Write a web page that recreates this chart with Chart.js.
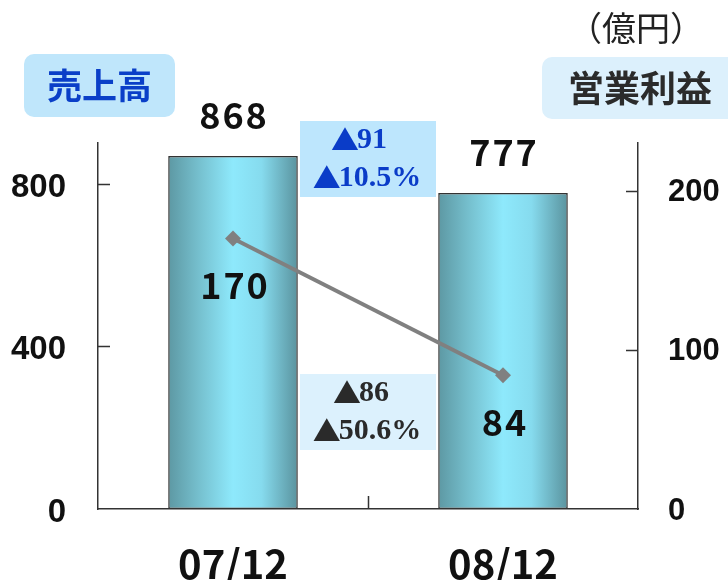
<!DOCTYPE html>
<html>
<head>
<meta charset="utf-8">
<script src="https://cdn.jsdelivr.net/npm/chart.js@4.4.1/dist/chart.umd.min.js"></script>
<style>
  body { margin: 0; background: #fff; }
  canvas { display: block; }
</style>
</head>
<body>
<canvas id="chart" width="728" height="580"></canvas>
<script>
// Data
const periods = ["07/12", "08/12"];
const sales = [868, 777];          // 売上高 (left axis)
const profit = [170, 84];          // 営業利益 (right axis)
const salesTicks = [0, 400, 800];
const profitTicks = [0, 100, 200];
const salesChange = ["91", "10.5%"];
const profitChange = ["86", "50.6%"];

const JP = '"Noto Sans CJK JP", "Noto Sans", sans-serif';
const SERIF = "bold 30px 'Liberation Serif', serif";
const TRI = "28px " + JP;

// Horizontal gradient for each bar
function barFill(ctx) {
  const chart = ctx.chart;
  const x = chart.scales.x;
  if (!x || ctx.dataIndex === undefined) return "#8ee9fc";
  const cx = x.getPixelForValue(ctx.dataIndex);
  const half = (x.width / periods.length) * 0.48 / 2;
  if (!isFinite(cx) || !isFinite(half) || half <= 0) return "#8ee9fc";
  const g = chart.ctx.createLinearGradient(cx - half, 0, cx + half, 0);
  g.addColorStop(0, "#5d98a3");
  g.addColorStop(0.22, "#74bdcb");
  g.addColorStop(0.5, "#8ee9fc");
  g.addColorStop(0.72, "#86dbee");
  g.addColorStop(1, "#5a939e");
  return g;
}

function roundRect(c, x, y, w, h, r) {
  c.beginPath();
  c.moveTo(x + r, y);
  c.arcTo(x + w, y, x + w, y + h, r);
  c.arcTo(x + w, y + h, x, y + h, r);
  c.arcTo(x, y + h, x, y, r);
  c.arcTo(x, y, x + w, y, r);
  c.closePath();
}

// "▲" in a sans font followed by a serif number, centred on cx
function changeText(c, txt, cx, cy) {
  c.font = TRI;
  const tw = c.measureText("▲").width;
  c.font = SERIF;
  const nw = c.measureText(txt).width;
  const left = cx - (tw + nw) / 2;
  c.textAlign = "left";
  c.font = TRI;
  c.fillText("▲", left, cy);
  c.font = SERIF;
  c.fillText(txt, left + tw - 2, cy);
  c.textAlign = "center";
}

// Inward tick marks, labels and boxes
const decorations = {
  id: "decorations",
  afterDraw(chart) {
    const c = chart.ctx;
    const { x, y, y1 } = chart.scales;
    const area = chart.chartArea;
    c.save();

    // inward ticks
    c.strokeStyle = "#333";
    c.lineWidth = 1.5;
    c.beginPath();
    salesTicks.slice(1).forEach(v => {
      const py = Math.round(y.getPixelForValue(v)) + 0.5;
      c.moveTo(area.left, py); c.lineTo(area.left + 12, py);
    });
    profitTicks.slice(1).forEach(v => {
      const py = Math.round(y1.getPixelForValue(v)) + 0.5;
      c.moveTo(area.right, py); c.lineTo(area.right - 12, py);
    });
    const midX = (x.getPixelForValue(0) + x.getPixelForValue(1)) / 2;
    c.moveTo(Math.round(midX) + 0.5, area.bottom); c.lineTo(Math.round(midX) + 0.5, area.bottom - 13);
    c.stroke();

    // category labels
    c.fillStyle = "#111";
    c.textAlign = "center";
    c.textBaseline = "middle";
    c.font = "bold 40px " + JP;
    periods.forEach((p, i) => c.fillText(p, x.getPixelForValue(i), area.bottom + 55));

    // value labels
    c.font = "bold 36px " + JP;
    c.letterSpacing = "2px";
    sales.forEach((v, i) => c.fillText(String(v), x.getPixelForValue(i) + 1, y.getPixelForValue(v) - 41));
    profit.forEach((v, i) => c.fillText(String(v), x.getPixelForValue(i) + 2, y1.getPixelForValue(v) + 47));
    c.letterSpacing = "0px";

    // change boxes
    const bw = 136, bh = 76;
    c.fillStyle = "#bde6fd";
    c.fillRect(midX - bw / 2, area.top - 22, bw, bh);
    c.fillStyle = "#0a3cc8";
    changeText(c, salesChange[0], midX - 8, area.top - 3);
    changeText(c, salesChange[1], midX, area.top + 35);

    const gy = area.top + 231;
    c.fillStyle = "#dcf1fd";
    c.fillRect(midX - bw / 2, gy, bw, bh);
    c.fillStyle = "#2a2a2a";
    changeText(c, profitChange[0], midX - 6, gy + 19);
    changeText(c, profitChange[1], midX, gy + 57);

    // axis titles
    c.fillStyle = "#bfe6fb";
    roundRect(c, 24, 54, 151, 63, 10); c.fill();
    c.fillStyle = "#0a3fc8";
    c.font = "bold 35px " + JP;
    c.fillText("売上高", 99.5, 86);

    c.fillStyle = "#dcf0fc";
    roundRect(c, 542, 57, 200, 62, 10); c.fill();
    c.fillStyle = "#2b2b2b";
    c.font = "bold 36px " + JP;
    c.fillText("営業利益", 640, 88);

    c.fillStyle = "#222";
    c.font = "34px " + JP;
    c.fillText("（億円）", 636, 28);

    c.restore();
  }
};

new Chart(document.getElementById("chart"), {
  data: {
    labels: periods,
    datasets: [
      {
        type: "line",
        data: profit,
        yAxisID: "y1",
        order: 0,
        borderColor: "#808080",
        borderWidth: 4,
        pointStyle: "rectRot",
        pointRadius: 8,
        pointBackgroundColor: "#808080",
        pointBorderWidth: 0,
        tension: 0
      },
      {
        type: "bar",
        data: sales,
        yAxisID: "y",
        order: 1,
        backgroundColor: barFill,
        borderColor: "#333",
        borderWidth: 1.5,
        borderSkipped: false,
        categoryPercentage: 1,
        barPercentage: 0.48
      }
    ]
  },
  options: {
    responsive: false,
    animation: false,
    layout: { padding: { top: 143, left: 0, right: 0, bottom: 0 } },
    plugins: { legend: { display: false }, tooltip: { enabled: false } },
    scales: {
      x: {
        offset: true,
        grid: { display: false },
        border: { display: true, color: "#333", width: 1.5 },
        ticks: { display: false },
        afterFit: s => { s.height = 71; }
      },
      y: {
        position: "left",
        min: 0,
        max: 900,
        grid: { display: false },
        border: { display: true, color: "#333", width: 1.5 },
        ticks: { stepSize: 400, padding: 24, labelOffset: 4, color: "#111", font: { family: "'Liberation Sans', Arial, sans-serif", size: 33, weight: "bold" } },
        afterBuildTicks: s => { s.ticks = salesTicks.map(v => ({ value: v })); },
        afterFit: s => { s.width = 98; }
      },
      y1: {
        position: "right",
        min: 0,
        max: 230,
        grid: { display: false },
        border: { display: true, color: "#333", width: 1.5 },
        ticks: { stepSize: 100, padding: 22, labelOffset: 2, color: "#111", font: { family: "'Liberation Sans', Arial, sans-serif", size: 31, weight: "bold" } },
        afterBuildTicks: s => { s.ticks = profitTicks.map(v => ({ value: v })); },
        afterFit: s => { s.width = 90; }
      }
    }
  },
  plugins: [decorations]
});
</script>
</body>
</html>
